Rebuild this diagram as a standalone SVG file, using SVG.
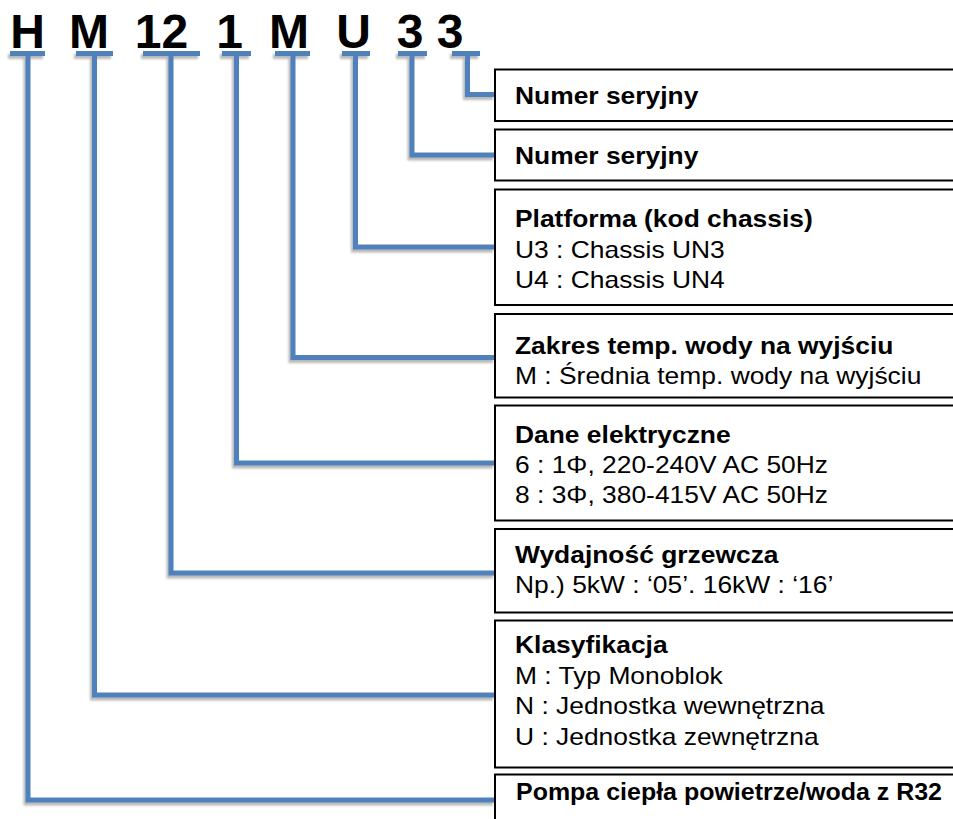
<svg xmlns="http://www.w3.org/2000/svg" width="953" height="819" viewBox="0 0 953 819">
  <defs>
    <filter id="shadow" x="-5%" y="-5%" width="110%" height="110%">
      <feDropShadow dx="-2" dy="3" stdDeviation="1.2" flood-color="#808080" flood-opacity="0.55"/>
    </filter>
    <style>
      .code { font-family: "Liberation Sans", Arial, sans-serif; font-weight: bold; font-size: 48px; fill: #000; text-anchor: middle; }
      .box { fill: #fff; stroke: #000; stroke-width: 2; }
      .t { font-family: "Liberation Sans", Arial, sans-serif; font-size: 23px; fill: #000; }
      .h { font-weight: bold; }
      .wire { fill: none; stroke: #4F81BD; stroke-width: 5; stroke-linejoin: miter; stroke-linecap: butt; }
    </style>
  </defs>
  <rect x="0" y="0" width="953" height="819" fill="#fff"/>

  <!-- model code characters -->
  <g id="code">
    <text class="code" x="27.5" y="47.5">H</text>
    <text class="code" x="89" y="47.5">M</text>
    <text class="code" x="161.5" y="47.5">12</text>
    <text class="code" x="229.5" y="47.5">1</text>
    <text class="code" x="289" y="47.5">M</text>
    <text class="code" x="353.5" y="47.5">U</text>
    <text class="code" x="410" y="47.5">3</text>
    <text class="code" x="450" y="47.5">3</text>
  </g>

  <!-- leader lines from each character to its description -->
  <g id="connectors" filter="url(#shadow)">
    <path class="wire" d="M10,53.5 H45 M28,53.5 V800 H495"/>
    <path class="wire" d="M76,53.5 H113 M94.5,53.5 V695 H495"/>
    <path class="wire" d="M143,53.5 H200 M171,53.5 V573 H495"/>
    <path class="wire" d="M222,53.5 H251 M236.5,53.5 V463 H495"/>
    <path class="wire" d="M275,53.5 H310 M293,53.5 V357.5 H495"/>
    <path class="wire" d="M342,53.5 H370 M355.5,53.5 V247 H495"/>
    <path class="wire" d="M398,53.5 H427 M412,53.5 V155 H495"/>
    <path class="wire" d="M452,53.5 H480 M467.5,53.5 V94.5 H495"/>
  </g>

  <g id="serial-2">
    <rect class="box" x="495" y="69.5" width="465" height="51.5"/>
    <text class="t h" transform="translate(515 104) scale(1.148 1)">Numer seryjny</text>
  </g>

  <g id="serial-1">
    <rect class="box" x="495" y="129.5" width="465" height="51"/>
    <text class="t h" transform="translate(515 164) scale(1.148 1)">Numer seryjny</text>
  </g>

  <g id="platform">
    <rect class="box" x="495" y="189.5" width="465" height="115.5"/>
    <text class="t" transform="translate(515 227) scale(1.148 1)">
      <tspan class="h" x="0" y="0">Platforma (kod chassis)</tspan>
      <tspan x="0" y="31">U3 : Chassis UN3</tspan>
      <tspan x="0" y="61">U4 : Chassis UN4</tspan>
    </text>
  </g>

  <g id="water-temp">
    <rect class="box" x="495" y="314" width="465" height="83.5"/>
    <text class="t" transform="translate(515 354) scale(1.148 1)">
      <tspan class="h" x="0" y="0">Zakres temp. wody na wyjściu</tspan>
      <tspan x="0" y="30">M : Średnia temp. wody na wyjściu</tspan>
    </text>
  </g>

  <g id="power">
    <rect class="box" x="495" y="405.5" width="465" height="115"/>
    <text class="t" transform="translate(515 442.5) scale(1.148 1)">
      <tspan class="h" x="0" y="0">Dane elektryczne</tspan>
      <tspan x="0" y="30.5">6 : 1Φ, 220-240V AC 50Hz</tspan>
      <tspan x="0" y="61">8 : 3Φ, 380-415V AC 50Hz</tspan>
    </text>
  </g>

  <g id="capacity">
    <rect class="box" x="495" y="529" width="465" height="83.5"/>
    <text class="t" transform="translate(515 563) scale(1.148 1)">
      <tspan class="h" x="0" y="0">Wydajność grzewcza</tspan>
      <tspan x="0" y="30">Np.) 5kW : ‘05’. 16kW : ‘16’</tspan>
    </text>
  </g>

  <g id="classification">
    <rect class="box" x="495" y="620.5" width="465" height="147"/>
    <text class="t" transform="translate(515 653) scale(1.148 1)">
      <tspan class="h" x="0" y="0">Klasyfikacja</tspan>
      <tspan x="0" y="31">M : Typ Monoblok</tspan>
      <tspan x="0" y="61">N : Jednostka wewnętrzna</tspan>
      <tspan x="0" y="92">U : Jednostka zewnętrzna</tspan>
    </text>
  </g>

  <g id="product">
    <rect class="box" x="495" y="774.5" width="465" height="60"/>
    <text class="t h" transform="translate(516 800) scale(1.086 1)">Pompa ciepła powietrze/woda z R32</text>
  </g>
</svg>
